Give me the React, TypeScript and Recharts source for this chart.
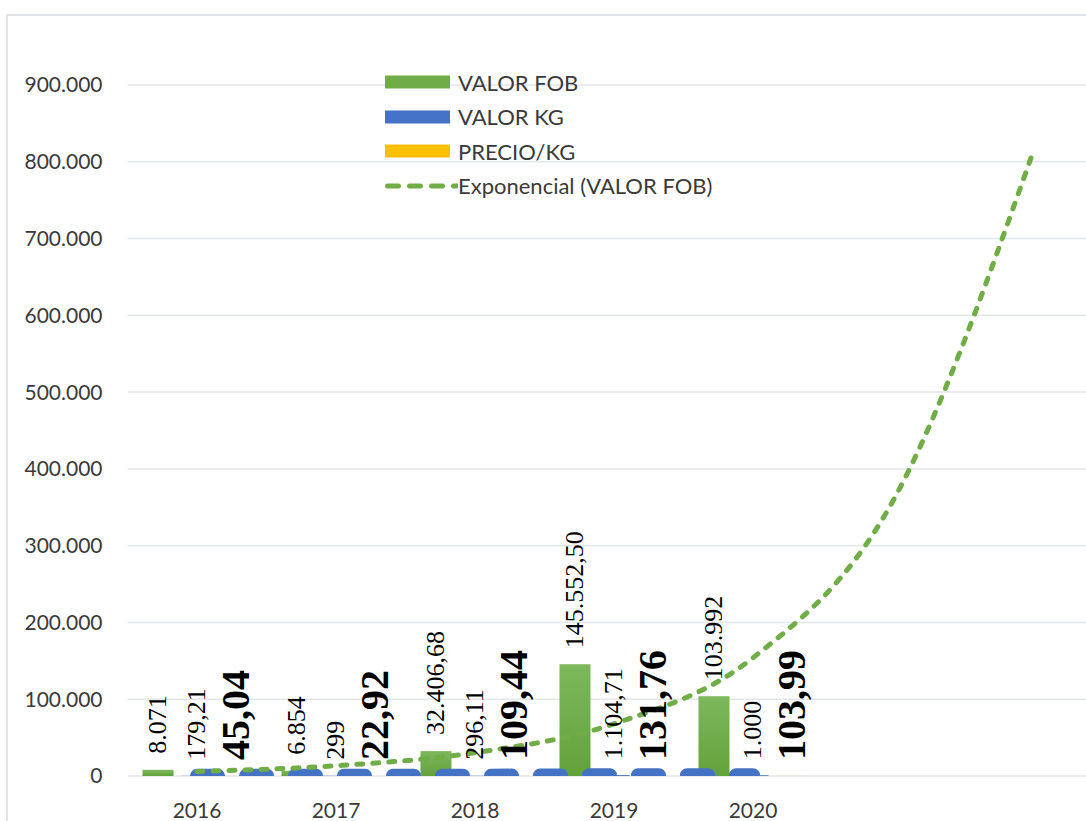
import {
  Bar,
  CartesianGrid,
  ComposedChart,
  LabelList,
  Line,
  XAxis,
  YAxis,
} from "recharts";

const years = ["2016", "2017", "2018", "2019", "2020", "", ""];
const valorFob = [8071, 6854, 32406.68, 145552.5, 103992];
const valorKg = [179.21, 299, 296.11, 1104.71, 1000];
const precioKg = [45.04, 22.92, 109.44, 131.76, 103.99];
// tendencia exponencial (incluye 2 periodos de pronóstico)
const tendencia = [6000, 13400, 30300, 68000, 154000, 356000, 805000];

const fobLabels = ["8.071", "6.854", "32.406,68", "145.552,50", "103.992"];
const kgLabels = ["179,21", "299", "296,11", "1.104,71", "1.000"];
const precioLabels = ["45,04", "22,92", "109,44", "131,76", "103,99"];

const yTicks = [0, 100000, 200000, 300000, 400000, 500000, 600000, 700000, 800000, 900000];

const legendItems = [
  { name: "VALOR FOB", color: "#70AD47", dashed: false },
  { name: "VALOR KG", color: "#4472C4", dashed: false },
  { name: "PRECIO/KG", color: "#FFC000", dashed: false },
  { name: "Exponencial (VALOR FOB)", color: "#70AD47", dashed: true },
];

const GREEN = "#70AD47";
const BLUE = "#4472C4";
const YELLOW = "#FFC000";
const SANS = "Lato, 'Open Sans', sans-serif";
const SERIF = "'Liberation Serif', 'DejaVu Serif', serif";

const data = years.map((year, i) => ({
  year,
  fob: valorFob[i],
  kg: valorKg[i],
  precio: precioKg[i],
  trend: tendencia[i],
}));

const fmtMiles = (v: number) => String(v).replace(/\B(?=(\d{3})+(?!\d))/g, ".");

function makeLabel(texts: string[], big: boolean) {
  return (props: any) => {
    const { x, y, width, index, value } = props;
    if (value == null || texts[index] == null) return null;
    const cx = Number(x) + Number(width) / 2;
    const ty = Number(y) - 16;
    return (
      <text
        x={cx}
        y={ty}
        transform={`rotate(-90 ${cx} ${ty})`}
        textAnchor="start"
        dominantBaseline="central"
        fontFamily={SERIF}
        fontSize={big ? 40 : 26}
        fontWeight={big ? "bold" : "normal"}
        fill="#000"
      >
        {texts[index]}
      </text>
    );
  };
}

// leyenda propia, fuera del layout del gráfico
function LegendBox() {
  return (
    <div
      style={{
        position: "absolute",
        left: 385,
        top: 65,
        fontFamily: SANS,
        fontSize: 22,
        color: "#3a3a3a",
      }}
    >
      {legendItems.map((it) => (
        <div key={it.name} style={{ height: 34.5, display: "flex", alignItems: "center" }}>
          <svg width={73} height={14} style={{ flex: "none" }}>
            {it.dashed ? (
              <line
                x1={2.5}
                y1={7}
                x2={72}
                y2={7}
                stroke={it.color}
                strokeWidth={5}
                strokeDasharray="11 11"
                strokeLinecap="round"
              />
            ) : (
              <rect x={0} y={0.5} width={65} height={13} fill={it.color} />
            )}
          </svg>
          <span style={{ whiteSpace: "nowrap" }}>{it.name}</span>
        </div>
      ))}
    </div>
  );
}

export default function App() {
  return (
    <div
      style={{
        position: "absolute",
        left: 0,
        top: 0,
        width: 1086,
        height: 821,
        overflow: "hidden",
        background: "#fff",
      }}
    >
      <div
        style={{
          position: "absolute",
          left: 6,
          top: 14,
          width: 1200,
          height: 900,
          borderLeft: "2px solid #dfe3e8",
          borderTop: "2px solid #dfe3e8",
        }}
      />
      <div style={{ position: "absolute", left: 0, top: 0 }}>
        <ComposedChart
          width={1110}
          height={840}
          data={data}
          margin={{ top: 85, right: 9.5, bottom: 0, left: 0 }}
          barSize={31}
          barGap={8}
        >
          <defs>
            <linearGradient id="fobGrad" x1="0" y1="0" x2="0" y2="1">
              <stop offset="0%" stopColor="#7DB85C" />
              <stop offset="100%" stopColor="#62A23B" />
            </linearGradient>
          </defs>
          <CartesianGrid vertical={false} stroke="#e3e6eb" strokeWidth={1.5} />
          <XAxis
            dataKey="year"
            height={64}
            axisLine={false}
            tickLine={false}
            tickSize={0}
            tickMargin={27}
            interval={0}
            tick={{ fontFamily: SANS, fontSize: 21, fill: "#3a3a3a" }}
          />
          <YAxis
            width={127.5}
            domain={[0, 900000]}
            ticks={yTicks}
            allowDataOverflow
            axisLine={false}
            tickLine={false}
            tickSize={0}
            tickMargin={25}
            tickFormatter={fmtMiles}
            tick={{ fontFamily: SANS, fontSize: 21, fill: "#3a3a3a" }}
          />
          <Bar dataKey="fob" name="VALOR FOB" fill="url(#fobGrad)" isAnimationActive={false}>
            <LabelList dataKey="fob" content={makeLabel(fobLabels, false)} />
          </Bar>
          <Bar dataKey="kg" name="VALOR KG" fill={BLUE} isAnimationActive={false}>
            <LabelList dataKey="kg" content={makeLabel(kgLabels, false)} />
          </Bar>
          <Bar dataKey="precio" name="PRECIO/KG" fill={YELLOW} isAnimationActive={false}>
            <LabelList dataKey="precio" content={makeLabel(precioLabels, true)} />
          </Bar>
          <Line
            dataKey="kg"
            stroke={BLUE}
            strokeWidth={14}
            strokeDasharray="21 28"
            strokeLinecap="round"
            dot={false}
            activeDot={false}
            legendType="none"
            isAnimationActive={false}
          />
          <Line
            type="monotone"
            dataKey="trend"
            name="Exponencial (VALOR FOB)"
            stroke={GREEN}
            strokeWidth={5}
            strokeDasharray="6 10"
            strokeLinecap="round"
            dot={false}
            activeDot={false}
            isAnimationActive={false}
          />
        </ComposedChart>
      </div>
      <LegendBox />
    </div>
  );
}
